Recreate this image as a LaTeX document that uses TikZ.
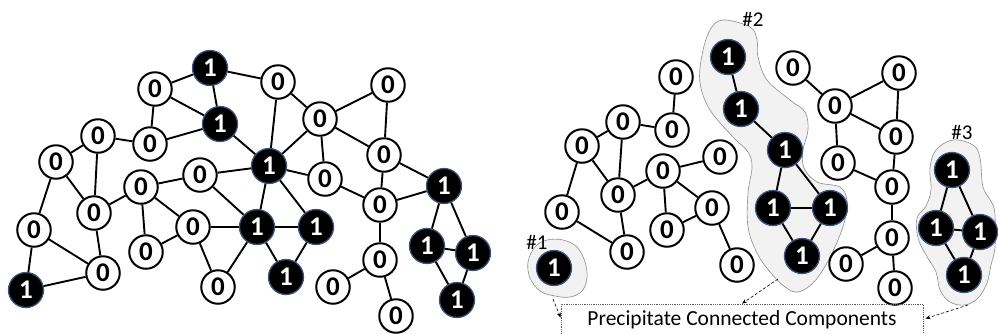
\documentclass[tikz,border=0pt]{standalone}
\usepackage{fontspec}
\setmainfont{Carlito}
\usetikzlibrary{arrows.meta,calc}
\definecolor{onerim}{RGB}{60,85,125}
\definecolor{blobfill}{RGB}{242,242,242}
\definecolor{blobline}{RGB}{140,140,140}
\definecolor{boxline}{RGB}{90,90,90}

\begin{document}
\begin{tikzpicture}[x=1pt,y=-1pt,
  bit/.style={circle,inner sep=0pt,font=\fontsize{27}{27}\selectfont\bfseries},
  zero/.style={bit,draw=black,line width=2pt,fill=white,minimum size=33.5pt},
  one/.style={bit,draw=onerim,line width=1.3pt,fill=black,text=white,minimum size=35pt},
  edge/.style={line width=1.9pt},
  blob/.style={fill=blobfill,draw=blobline,line width=0.6pt},
  tag/.style={font=\fontsize{21}{21}\selectfont},
  pointer/.style={densely dashed,line width=0.6pt,-{Stealth[length=5pt,width=4pt]}},
  outbox/.style={draw=boxline,densely dotted,line width=0.8pt,minimum width=362pt,minimum height=41pt,
    text height=14.5pt,text depth=13.5pt,font=\fontsize{21.5}{21.5}\selectfont},
]
\useasboundingbox (0,0) rectangle (998,333);

% ---------- shaded components (right) ----------
\draw[blob] plot[smooth cycle,tension=0.6] coordinates {
  (547,240) (563,240) (577,247) (585,262) (587,278) (582,291) (570,297)
  (555,296) (540,291) (530,278) (528,262) (535,247)};
\draw[blob] plot[smooth cycle,tension=0.6] coordinates {
  (723,20) (750,27) (757,40) (758,57) (767,80) (790,100) (805,112) (808,130)
  (803,150) (804,168) (817,182) (840,187) (847,200) (846,215) (840,235)
  (827,263) (813,283) (798,292) (785,287) (770,272) (757,253) (748,227)
  (748,193) (752,167) (748,152) (733,137) (710,110) (700,83) (702,55) (710,30)};
\draw[blob] plot[smooth cycle,tension=0.6] coordinates {
  (953,140) (973,145) (980,158) (983,187) (992,203) (995,215) (995,247)
  (991,265) (987,283) (978,298) (965,305) (950,302) (940,290) (936,272)
  (926,255) (918,238) (917,218) (926,206) (931,190) (930,168) (936,150)};

\node[tag] (t1) at (537,242) {\#1};
\node[tag] (t2) at (753,19) {\#2};
\node[tag] (t3) at (962,132) {\#3};

% ---------- left graph ----------
\node[one]  (L1)  at (210,68)  {1};
\node[zero] (L2)  at (155,89)  {0};
\node[one]  (L3)  at (220,124) {1};
\node[zero] (L4)  at (98,136)  {0};
\node[zero] (L5)  at (150,144) {0};
\node[zero] (L6)  at (56,162)  {0};
\node[zero] (L7)  at (200,175) {0};
\node[zero] (L8)  at (141,187) {0};
\node[zero] (L9)  at (94,213)  {0};
\node[zero] (L10) at (34,230)  {0};
\node[zero] (L11) at (193,227) {0};
\node[zero] (L12) at (146,252) {0};
\node[zero] (L13) at (103,273) {0};
\node[one]  (L14) at (26,290)  {1};
\node[zero] (L15) at (218,287) {0};
\node[zero] (L16) at (278,82)  {0};
\node[zero] (L17) at (320,119) {0};
\node[zero] (L18) at (388,85)  {0};
\node[zero] (L19) at (384,155) {0};
\node[one]  (L20) at (269,166) {1};
\node[zero] (L21) at (325,179) {0};
\node[one]  (L22) at (444,186) {1};
\node[zero] (L23) at (380,205) {0};
\node[one]  (L24) at (257,227) {1};
\node[one]  (L25) at (316,227) {1};
\node[one]  (L26) at (286,277) {1};
\node[zero] (L27) at (380,260) {0};
\node[zero] (L28) at (333,287) {0};
\node[zero] (L29) at (396,316) {0};
\node[one]  (L30) at (427,246) {1};
\node[one]  (L31) at (473,253) {1};
\node[one]  (L32) at (457,300) {1};

\foreach \a/\b in {L2/L1,L2/L3,L1/L3,L1/L16,L2/L5,L5/L3,L4/L5,L4/L6,L4/L9,
  L3/L20,L7/L20,L8/L7,L6/L10,L6/L9,L9/L8,L9/L13,L10/L14,L10/L13,L14/L13,
  L8/L11,L8/L12,L12/L11,L11/L24,L11/L15,L15/L24,L7/L24,L16/L17,L16/L20,
  L17/L20,L17/L18,L17/L19,L17/L21,L18/L19,L19/L22,L19/L23,L20/L21,L20/L24,
  L20/L25,L21/L23,L23/L22,L23/L27,L24/L25,L24/L26,L25/L26,L27/L28,L27/L29,
  L22/L30,L22/L31,L30/L31,L30/L32,L31/L32}
  \draw[edge] (\a) -- (\b);

% ---------- right graph ----------
\node[one]  (R1)  at (728,57)  {1};
\node[one]  (R2)  at (741,109) {1};
\node[zero] (R3)  at (676,77)  {0};
\node[zero] (R4)  at (623,122) {0};
\node[zero] (R5)  at (672,130) {0};
\node[zero] (R6)  at (582,146) {0};
\node[zero] (R7)  at (720,157) {0};
\node[zero] (R8)  at (663,171) {0};
\node[zero] (R9)  at (618,195) {0};
\node[zero] (R10) at (562,212) {0};
\node[zero] (R11) at (712,208) {0};
\node[zero] (R12) at (667,230) {0};
\node[zero] (R13) at (627,252) {0};
\node[zero] (R14) at (737,265) {0};
\node[one]  (R15) at (554,268) {1};
\node[zero] (R16) at (793,68)  {0};
\node[zero] (R17) at (899,73)  {0};
\node[zero] (R18) at (835,106) {0};
\node[zero] (R19) at (896,137) {0};
\node[one]  (R20) at (785,150) {1};
\node[zero] (R21) at (838,163) {0};
\node[zero] (R22) at (892,187) {0};
\node[one]  (R23) at (773,208) {1};
\node[one]  (R24) at (830,208) {1};
\node[zero] (R25) at (892,238) {0};
\node[one]  (R26) at (802,256) {1};
\node[zero] (R27) at (846,264) {0};
\node[zero] (R28) at (895,288) {0};
\node[one]  (R29) at (952,170) {1};
\node[one]  (R30) at (936,228) {1};
\node[one]  (R31) at (980,232) {1};
\node[one]  (R32) at (964,275) {1};

\foreach \a/\b in {R1/R2,R3/R5,R4/R5,R4/R6,R4/R9,R6/R10,R6/R9,R8/R7,R8/R9,
  R2/R20,R9/R13,R10/R13,R8/R12,R8/R11,R12/R11,R11/R14,R16/R18,R18/R17,
  R18/R19,R18/R21,R17/R19,R19/R22,R21/R22,R20/R23,R20/R24,R23/R24,R23/R26,
  R24/R26,R22/R25,R25/R27,R25/R28,R29/R30,R29/R31,R30/R31,R30/R32,R31/R32}
  \draw[edge] (\a) -- (\b);

% ---------- output box and pointers ----------
\node[outbox] (pcc) at (742,324.5) {Precipitate Connected Components};
\coordinate (g1) at (553,299);
\coordinate (g2) at (778,279);
\coordinate (g3) at (968,305);
\draw[pointer] (g1) -- ($(pcc.north west)+(0,14)$);
\draw[pointer] (g2) -- (pcc.north);
\draw[pointer] (g3) -- ($(pcc.north east)+(2,15)$);
\end{tikzpicture}
\end{document}
